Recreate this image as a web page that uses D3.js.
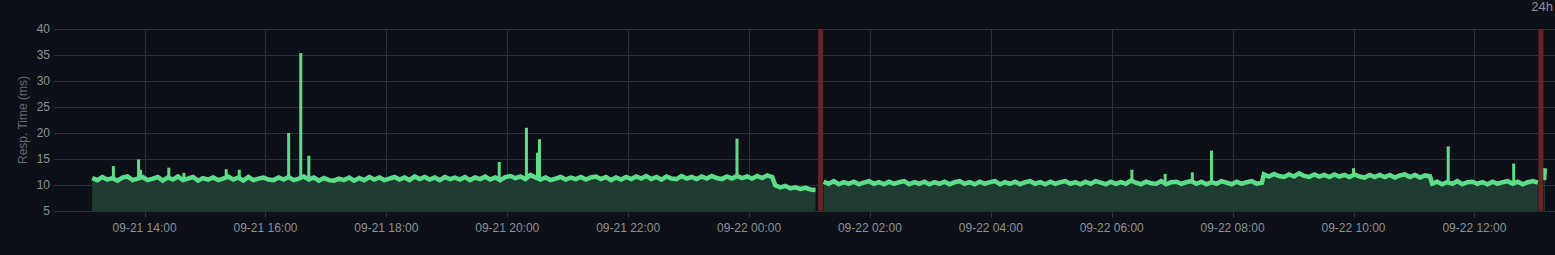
<!DOCTYPE html>
<html>
<head>
<meta charset="utf-8">
<script src="https://cdn.jsdelivr.net/npm/d3@7"></script>
<style>
    html, body { margin: 0; padding: 0; background: #0d1117; overflow: hidden; }
    svg { display: block; }
    text { font-family: 'Liberation Sans', Arial, sans-serif; }
</style>
</head>
<body>
<svg id="chart" width="1555" height="255"></svg>
<script>
// Ticks
const yTicks = [5, 10, 15, 20, 25, 30, 35, 40];
const xTickLabels = ['09-21 14:00', '09-21 16:00', '09-21 18:00', '09-21 20:00', '09-21 22:00', '09-22 00:00',
    '09-22 02:00', '09-22 04:00', '09-22 06:00', '09-22 08:00', '09-22 10:00', '09-22 12:00'];
const year = '2023';

// Response time runs (ms), one value every 5 minutes
const runA = [ // 09-21 13:08 -> 09-22 00:23
    11.3, 10.9, 11.5, 11.0, 11.3, 10.8, 11.4, 11.6, 10.9, 11.2, 11.5, 10.9,
    11.2, 11.5, 10.8, 11.4, 11.0, 11.6, 10.9, 11.2, 11.5, 10.8, 11.3, 11.0,
    11.4, 10.9, 11.2, 11.6, 11.0, 11.4, 10.8, 11.5, 10.9, 11.2, 11.4, 11.0,
    10.9, 11.4, 11.0, 11.5, 10.9, 11.2, 11.6, 11.0, 11.4, 10.8, 11.3, 10.9,
    10.8, 11.2, 10.9, 11.4, 10.8, 11.3, 10.9, 11.5, 11.0, 11.4, 10.9, 11.2,
    11.5, 11.0, 11.4, 10.9, 11.6, 11.1, 11.5, 11.0, 11.4, 10.9, 11.5, 11.1,
    11.4, 11.0, 11.5, 10.9, 11.4, 11.1, 11.6, 11.0, 11.4, 10.9, 11.5, 11.7,
    11.3, 11.6, 11.1, 11.9, 11.4, 11.0, 11.4, 10.9, 11.2, 11.5, 11.0, 11.4,
    11.1, 11.5, 11.0, 11.4, 11.6, 11.1, 11.5, 10.9, 11.4, 11.0, 11.5, 11.1,
    11.6, 11.2, 11.7, 11.1, 11.5, 11.0, 11.6, 11.2, 11.1, 11.7, 11.2, 11.5,
    11.1, 11.6, 11.2, 11.7, 11.3, 11.1, 11.6, 11.2, 11.7, 11.3, 11.6, 11.2,
    11.7, 11.3, 11.8, 11.5
];
const runB = [9.9, 9.5, 9.8, 9.3, 9.5, 9.2, 9.4, 9.1, 9.0]; // 00:26 -> 01:06
const runC1 = [ // 01:14 -> 08:29
    10.6, 10.2, 10.7, 10.1, 10.5, 10.2, 10.6, 10.1, 10.4, 10.7, 10.2, 10.5,
    10.1, 10.6, 10.2, 10.5, 10.7, 10.1, 10.5, 10.2, 10.6, 10.1, 10.5, 10.2,
    10.6, 10.1, 10.5, 10.7, 10.2, 10.5, 10.1, 10.6, 10.2, 10.5, 10.7, 10.1,
    10.5, 10.2, 10.6, 10.1, 10.5, 10.7, 10.2, 10.5, 10.1, 10.6, 10.2, 10.5,
    10.7, 10.2, 10.5, 10.1, 10.6, 10.2, 10.7, 10.4, 10.1, 10.6, 10.2, 10.5,
    10.2, 10.8, 10.4, 10.1, 10.6, 10.3, 10.2, 10.7, 10.1, 10.5, 10.6, 10.2,
    10.5, 10.7, 10.2, 10.6, 10.1, 10.5, 10.2, 10.7, 10.4, 10.1, 10.6, 10.2,
    10.5, 10.7, 10.2, 10.4
];
const runC2 = [ // 08:31 -> 11:16
    12.0, 11.6, 12.1, 11.7, 11.5, 12.0, 11.6, 12.2, 11.7, 11.5, 12.0, 11.6,
    11.9, 11.5, 12.0, 11.6, 11.9, 11.5, 12.0, 11.6, 11.4, 11.9, 11.5, 11.9,
    11.5, 11.9, 11.4, 11.8, 12.0, 11.5, 11.9, 11.4, 11.8, 11.6
];
const runC3 = [ // 11:18 -> 13:03
    10.2, 10.6, 10.1, 10.5, 10.2, 10.7, 10.1, 10.5, 10.6, 10.2, 10.5, 10.1,
    10.6, 10.2, 10.5, 10.7, 10.2, 10.6, 10.1, 10.5, 10.7, 10.4
];
const runD = [10.9, 13.2]; // after the second outage, 1 minute apart

const runStarts = ['2023-09-21 13:08', '2023-09-22 00:26', '2023-09-22 01:14', '2023-09-22 08:31', '2023-09-22 11:18', '2023-09-22 13:09'];
const runSteps = [5, 5, 5, 5, 5, 1];

// Short spikes: time, peak (ms)
const spikeTimes = ['2023-09-21 13:29', '2023-09-21 13:54', '2023-09-21 13:56', '2023-09-21 14:24', '2023-09-21 14:39',
    '2023-09-21 15:21', '2023-09-21 15:34', '2023-09-21 16:23', '2023-09-21 16:35', '2023-09-21 16:43',
    '2023-09-21 19:52', '2023-09-21 20:19', '2023-09-21 20:30', '2023-09-21 20:32', '2023-09-21 23:48',
    '2023-09-22 06:20', '2023-09-22 06:53', '2023-09-22 07:20', '2023-09-22 07:39', '2023-09-22 10:00',
    '2023-09-22 11:34', '2023-09-22 12:39'];
const spikePeaks = [13.6, 14.9, 12.9, 13.3, 12.3, 13.0, 12.9, 20.0, 35.4, 15.6,
    14.4, 21.0, 16.2, 18.8, 18.9, 12.9, 12.1, 12.4, 16.6, 13.2, 17.4, 14.1];

// Down beats
const outages = ['2023-09-22 01:11', '2023-09-22 13:06'];

const parse = d3.timeParse('%Y-%m-%d %H:%M');

const buildRun = (idx, values) => values.map((v, i) => ({
    t: d3.timeMinute.offset(parse(runStarts[idx]), i * runSteps[idx]),
    v: v
}));

const segments = [
    [...buildRun(0, runA), ...buildRun(1, runB)],
    [...buildRun(2, runC1), ...buildRun(3, runC2), ...buildRun(4, runC3)],
    buildRun(5, runD)
];
const allPoints = segments.flat();

const svg = d3.select('#chart');

const x = d3.scaleTime()
    .domain([parse('2023-09-21 12:38'), parse('2023-09-22 13:20')])
    .range([62, 1555]);
const y = d3.scaleLinear().domain([5, 40]).range([210.7, 29.3]);

const crisp = (v) => Math.round(v) + 0.5;

// Grid
const grid = svg.append('g');
grid.selectAll('line.h')
    .data(yTicks)
    .enter()
    .append('line')
    .attr('x1', 54).attr('x2', 1555)
    .attr('y1', d => crisp(y(d))).attr('y2', d => crisp(y(d)))
    .attr('stroke', '#2b2f36');

const xTicks = xTickLabels.map(l => parse(year + '-' + l));
grid.selectAll('line.v')
    .data(xTicks)
    .enter()
    .append('line')
    .attr('x1', d => crisp(x(d))).attr('x2', d => crisp(x(d)))
    .attr('y1', 29).attr('y2', 218)
    .attr('stroke', '#2b2f36');

// Tick labels
svg.append('g').selectAll('text')
    .data(yTicks)
    .enter()
    .append('text')
    .attr('x', 50)
    .attr('y', d => y(d) + 4)
    .attr('text-anchor', 'end')
    .attr('font-size', 12)
    .attr('fill', '#8b8f95')
    .text(d => d);

svg.append('g').selectAll('text')
    .data(xTicks)
    .enter()
    .append('text')
    .attr('x', d => x(d))
    .attr('y', 232)
    .attr('text-anchor', 'middle')
    .attr('font-size', 12)
    .attr('fill', '#8b8f95')
    .text((d, i) => xTickLabels[i]);

svg.append('text')
    .attr('transform', 'translate(27,120) rotate(-90)')
    .attr('text-anchor', 'middle')
    .attr('font-size', 12)
    .attr('fill', '#676b72')
    .text('Resp. Time (ms)');

svg.append('text')
    .attr('x', 1553)
    .attr('y', 11)
    .attr('text-anchor', 'end')
    .attr('font-size', 13)
    .attr('fill', '#8b8f95')
    .text('24h');

// Fill under the line
const area = d3.area()
    .x(d => x(d.t))
    .y0(y(5))
    .y1(d => y(d.v));
const line = d3.line()
    .x(d => x(d.t))
    .y(d => y(d.v));

svg.append('g').selectAll('path')
    .data(segments)
    .enter()
    .append('path')
    .attr('d', area)
    .attr('fill', '#1f3c32');

svg.append('g').selectAll('path')
    .data(segments)
    .enter()
    .append('path')
    .attr('d', line)
    .attr('fill', 'none')
    .attr('stroke', '#5cdd8b')
    .attr('stroke-width', 4.5)
    .attr('stroke-linejoin', 'miter');

// Spikes go from the local level up to the peak
const bis = d3.bisector(d => d.t).center;
svg.append('g').selectAll('line')
    .data(spikeTimes.map((s, i) => ({ t: parse(s), v: spikePeaks[i] })))
    .enter()
    .append('line')
    .attr('x1', d => x(d.t)).attr('x2', d => x(d.t))
    .attr('y1', d => y(d.v))
    .attr('y2', d => y(allPoints[bis(allPoints, d.t)].v))
    .attr('stroke', '#5cdd8b')
    .attr('stroke-width', 3);

// Outage bars
svg.append('g').selectAll('rect')
    .data(outages.map(parse))
    .enter()
    .append('rect')
    .attr('x', d => x(d) - 2.5)
    .attr('y', y(40))
    .attr('width', 5)
    .attr('height', y(5) - y(40))
    .attr('fill', '#642729');
</script>
</body>
</html>
